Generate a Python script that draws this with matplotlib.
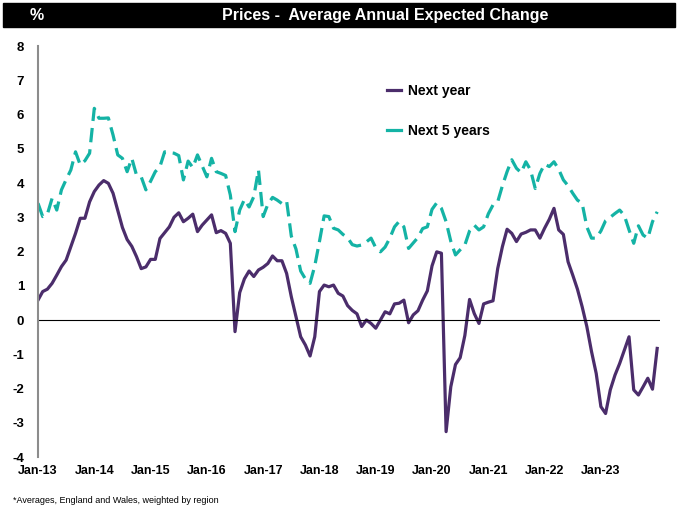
import numpy as np
import matplotlib
matplotlib.use("Agg")
import matplotlib.pyplot as plt
from matplotlib import font_manager
from matplotlib.lines import Line2D
from matplotlib.patches import Rectangle

# Expectativas mensuales, desde Jan-13
next_year = [0.58, 0.83, 0.90, 1.07, 1.31, 1.56, 1.75, 2.14, 2.53, 2.97,
             2.97, 3.45, 3.75, 3.94, 4.07, 3.99, 3.70, 3.20, 2.70, 2.35,
             2.15, 1.85, 1.50, 1.55, 1.77, 1.77, 2.38, 2.55, 2.72, 3.00,
             3.13, 2.87, 2.97, 3.09, 2.58, 2.77, 2.92, 3.07, 2.55, 2.61,
             2.53, 2.24, -0.34, 0.80, 1.20, 1.43, 1.27, 1.46, 1.54, 1.65,
             1.87, 1.73, 1.73, 1.36, 0.68, 0.10, -0.49, -0.73, -1.05, -0.49,
             0.83, 1.02, 0.97, 1.02, 0.78, 0.70, 0.42, 0.28, 0.18, -0.19,
             0.00, -0.10, -0.24, 0.00, 0.24, 0.18, 0.47, 0.49, 0.58, -0.08,
             0.15, 0.27, 0.58, 0.85, 1.58, 1.99, 1.95, -3.26, -1.95, -1.30,
             -1.10, -0.45, 0.60, 0.19, -0.10, 0.47, 0.52, 0.56, 1.50, 2.14,
             2.65, 2.53, 2.29, 2.51, 2.56, 2.63, 2.63, 2.39, 2.68, 2.94,
             3.26, 2.63, 2.50, 1.70, 1.31, 0.90, 0.39, -0.19, -0.92, -1.56,
             -2.53, -2.73, -2.04, -1.61, -1.27, -0.88, -0.49, -2.04, -2.19, -1.95,
             -1.70, -2.02, -0.83]

next_5_years = [3.41, 3.02, 3.09, 3.55, 3.21, 3.80, 4.10, 4.38, 4.91, 4.53,
                4.65, 4.87, 6.18, 5.89, 5.89, 5.90, 5.40, 4.82, 4.72, 4.33,
                4.72, 4.23, 4.18, 3.80, 4.05, 4.33, 4.48, 4.91, 4.89, 4.87,
                4.80, 4.09, 4.64, 4.45, 4.82, 4.50, 4.18, 4.72, 4.33, 4.28,
                4.22, 3.65, 2.58, 3.21, 3.52, 3.30, 3.60, 4.38, 3.02, 3.38,
                3.58, 3.50, 3.40, 3.48, 2.45, 2.07, 1.43, 1.20, 1.07, 1.58,
                2.29, 3.04, 3.02, 2.68, 2.63, 2.50, 2.40, 2.20, 2.16, 2.19,
                2.28, 2.39, 2.11, 1.99, 2.13, 2.39, 2.72, 2.88, 2.72, 2.09,
                2.25, 2.41, 2.67, 2.72, 3.23, 3.42, 3.26, 2.87, 2.30, 1.90,
                2.05, 2.19, 2.60, 2.77, 2.63, 2.72, 3.10, 3.36, 3.45, 3.92,
                4.33, 4.68, 4.43, 4.30, 4.62, 4.38, 3.84, 4.28, 4.55, 4.48,
                4.62, 4.40, 4.09, 3.92, 3.70, 3.50, 3.41, 2.72, 2.39, 2.39,
                2.60, 2.90, 3.00, 3.11, 3.21, 3.05, 2.63, 2.24, 2.75, 2.48,
                2.39, 2.87, 3.16]

tick_labels = ["Jan-13", "Jan-14", "Jan-15", "Jan-16", "Jan-17", "Jan-18",
               "Jan-19", "Jan-20", "Jan-21", "Jan-22", "Jan-23"]

purple = "#4b2d6b"
teal = "#14b3a5"

# fuente estrecha si existe
fuentes = {f.name for f in font_manager.fontManager.ttflist}
narrow = "Liberation Sans Narrow" if "Liberation Sans Narrow" in fuentes else "Liberation Sans"
plt.rcParams["font.family"] = [narrow, "DejaVu Sans"]
plt.rcParams["axes.unicode_minus"] = False

fig = plt.figure(figsize=(6.83, 5.11), dpi=100)
ax = fig.add_axes([38 / 683, 54 / 511, 622 / 683, 411 / 511])

x = np.arange(len(next_year))
ax.plot(x, next_year, color=purple, lw=2.3, solid_joinstyle="round")
ax.plot(x, next_5_years, color=teal, lw=2.3, dashes=(4.5, 2.2))
ax.axhline(0, color="black", lw=0.8)

ax.set_xlim(0, 132.6)
ax.set_ylim(-4, 8)
ax.set_yticks(range(-4, 9))
ax.set_xticks(np.arange(len(tick_labels)) * 12)
ax.set_xticklabels(tick_labels)
ax.tick_params(axis="both", length=0, labelsize=9)
ax.tick_params(axis="y", pad=10, labelsize=9.5)
ax.tick_params(axis="x", pad=6)
for lbl in ax.get_xticklabels() + ax.get_yticklabels():
    lbl.set_fontweight("bold")

for s in ["top", "right", "bottom"]:
    ax.spines[s].set_visible(False)
ax.spines["left"].set_color("#8c8c8c")
ax.spines["left"].set_linewidth(1.5)

handles = [Line2D([], [], color=purple, lw=2.3),
           Line2D([], [], color=teal, lw=2.3)]
leg = ax.legend(handles, ["Next year", "Next 5 years"], loc="upper left",
                bbox_to_anchor=(0.55, 0.925), frameon=False, borderpad=0,
                handlelength=1.0, handletextpad=0.5, labelspacing=1.9,
                prop={"weight": "bold", "size": 10})

# barra del título
fig.add_artist(Rectangle((3 / 683, 484 / 511), 672 / 683, 24 / 511,
                         transform=fig.transFigure, color="black"))
fig.text(30 / 683, 496 / 511, "%", color="white", fontsize=11.5,
         fontweight="bold", va="center", ha="left")
fig.text(385 / 683, 496 / 511, "Prices -  Average Annual Expected Change",
         color="white", fontsize=11.5, fontweight="bold", va="center", ha="center")

fig.text(13 / 683, 11 / 511, "*Averages, England and Wales, weighted by region",
         fontsize=6.5, va="center", ha="left")

fig.savefig("out.png", dpi=100)
